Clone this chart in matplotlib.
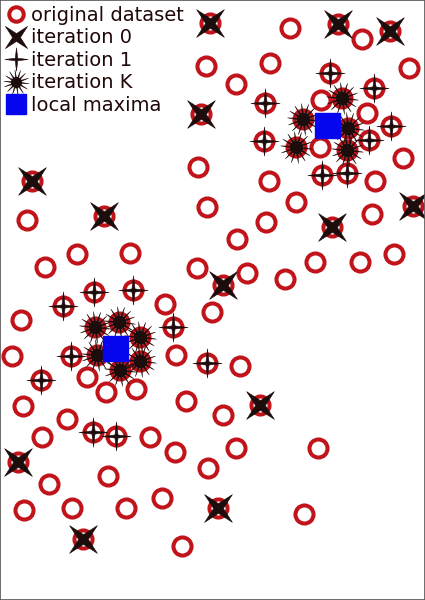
import numpy as np
import matplotlib
matplotlib.use("Agg")
import matplotlib.pyplot as plt
from matplotlib.path import Path
from matplotlib.legend_handler import HandlerTuple

# ---------------------------------------------------------------------------
# data (picture coordinates: x to the right, y downward)
# ---------------------------------------------------------------------------
data_x = [210, 290, 338, 390, 362, 206, 270, 330, 409, 236, 374, 342, 321, 265,
          201, 367, 303, 348, 391, 264, 296, 320, 347, 369, 403, 198, 322, 347,
          375, 269, 32, 296, 207, 413, 104, 372, 27, 266, 332, 237, 130, 77,
          394, 45, 315, 360, 197, 247, 285, 223, 94, 133, 63, 165, 212, 21,
          95, 119, 140, 173, 71, 97, 140, 120, 12, 176, 207, 240, 41, 87,
          106, 136, 186, 23, 67, 223, 260, 93, 116, 150, 42, 175, 236, 318,
          18, 208, 108, 49, 162, 24, 72, 126, 218, 304, 83, 182]
data_y = [23, 28, 24, 31, 39, 66, 63, 73, 68, 84, 88, 98, 100, 103,
          114, 113, 119, 128, 126, 141, 147, 147, 150, 140, 158, 167, 175, 173,
          181, 181, 181, 202, 207, 206, 216, 214, 220, 222, 227, 239, 253, 254,
          254, 267, 262, 262, 268, 273, 279, 285, 292, 290, 306, 304, 312, 320,
          327, 322, 337, 327, 356, 355, 361, 370, 356, 355, 363, 366, 380, 377,
          392, 389, 401, 406, 419, 415, 405, 432, 436, 437, 437, 452, 448, 448,
          462, 468, 476, 484, 498, 510, 508, 508, 508, 514, 539, 546]

it0_x = [210, 338, 390, 201, 32, 104, 413, 332, 223, 260, 18, 218, 83]
it0_y = [23, 24, 31, 114, 181, 216, 206, 227, 285, 405, 462, 508, 539]

it1_x = [330, 374, 265, 391, 264, 369, 322, 347,
         94, 133, 63, 173, 71, 207, 41, 93, 116]
it1_y = [73, 88, 103, 126, 141, 140, 175, 173,
         292, 290, 306, 327, 356, 363, 380, 432, 436]

itk_x = [342, 303, 348, 296, 347, 95, 119, 140, 97, 140, 120]
itk_y = [98, 119, 128, 147, 150, 327, 322, 337, 355, 361, 370]

max_x = [327, 115]
max_y = [125, 348]


def star(n, inner, rot=0.0):
    ang = np.deg2rad(rot) + np.arange(2 * n) * np.pi / n + np.pi / 2
    r = np.where(np.arange(2 * n) % 2 == 0, 1.0, inner)
    v = np.column_stack([r * np.cos(ang), r * np.sin(ang)])
    v = np.vstack([v, v[:1]])
    codes = [Path.MOVETO] + [Path.LINETO] * (2 * n - 1) + [Path.CLOSEPOLY]
    return Path(v, codes)


red = "#c0141a"
ink = "#1c0c0c"

fig = plt.figure(figsize=(4.25, 6), dpi=100)
ax = fig.add_axes([0, 0, 1, 1])

h_data, = ax.plot(data_x, data_y, ls="none", marker="o", ms=13, mfc="none",
                  mec=red, mew=2.9)
h_it0, = ax.plot(it0_x, it0_y, ls="none", marker=star(4, 0.25, 45), ms=20,
                 color=ink, mew=0.4)
h_it1, = ax.plot(it1_x, it1_y, ls="none", marker=star(4, 0.15), ms=21,
                 color=ink, mew=0.4)
h_spk, = ax.plot(itk_x, itk_y, ls="none", marker=star(14, 0.25, 7), ms=23,
                 color=ink, mew=0.3)
h_core, = ax.plot(itk_x, itk_y, ls="none", marker="o", ms=10,
                  color=ink, mew=0)
h_max, = ax.plot(max_x, max_y, ls="none", marker="s", ms=18, color="#0505ee")

ax.set_xlim(0, 425)
ax.set_ylim(600, 0)
ax.set_xticks([])
ax.set_yticks([])
for s in ax.spines.values():
    s.set_color("#555555")
    s.set_linewidth(1.2)

ax.legend([h_data, h_it0, h_it1, (h_spk, h_core), h_max],
          ["original dataset", "iteration 0", "iteration 1", "iteration K",
           "local maxima"],
          handler_map={tuple: HandlerTuple(ndivide=1)},
          loc="upper left", frameon=False, fontsize=14, markerscale=0.8,
          handlelength=1.0, handletextpad=0.3, labelspacing=0.18,
          borderaxespad=0.0, borderpad=0.3, labelcolor="#200808")

fig.savefig("out.png", dpi=100)
